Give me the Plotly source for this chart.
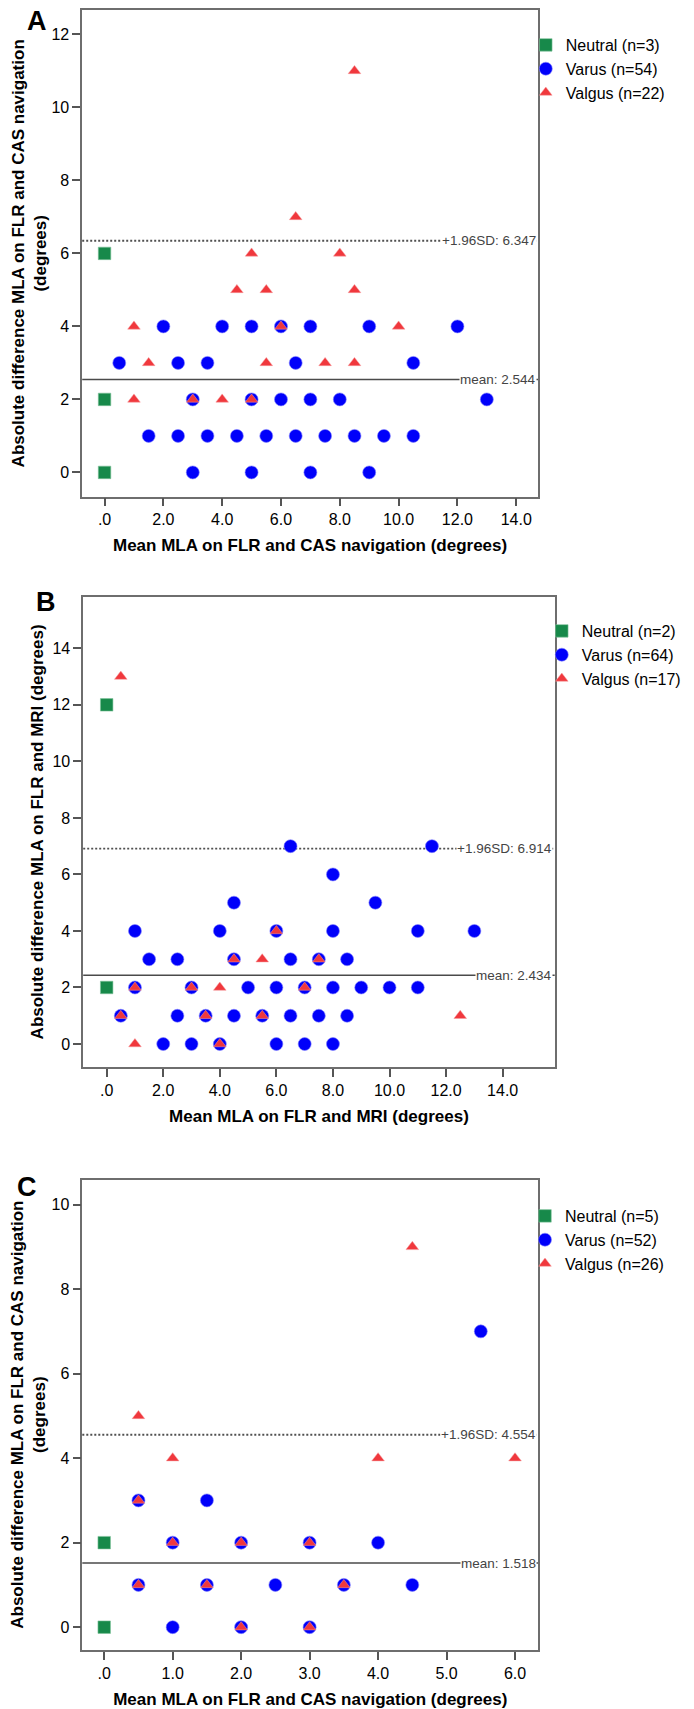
import plotly.graph_objects as go

W, H = 694, 1709

# ---------------- DATA ----------------
# Panel A: FLR vs CAS navigation
a_neutral_x = [0, 0, 0]
a_neutral_y = [6, 2, 0]
a_varus_x = [2.0, 4.0, 5.0, 6.0, 7.0, 9.0, 12.0,
             0.5, 2.5, 3.5, 6.5, 10.5,
             3.0, 5.0, 6.0, 7.0, 8.0, 13.0,
             1.5, 2.5, 3.5, 4.5, 5.5, 6.5, 7.5, 8.5, 9.5, 10.5,
             3.0, 5.0, 7.0, 9.0]
a_varus_y = [4, 4, 4, 4, 4, 4, 4,
             3, 3, 3, 3, 3,
             2, 2, 2, 2, 2, 2,
             1, 1, 1, 1, 1, 1, 1, 1, 1, 1,
             0, 0, 0, 0]
a_valgus_x = [8.5, 6.5, 5.0, 8.0, 4.5, 5.5, 8.5, 1.0, 6.0, 10.0,
              1.5, 5.5, 7.5, 8.5, 1.0, 3.0, 4.0, 5.0]
a_valgus_y = [11, 7, 6, 6, 5, 5, 5, 4, 4, 4,
              3, 3, 3, 3, 2, 2, 2, 2]
a_mean = 2.544
a_sd = 6.347
a_names = ["Neutral (n=3)", "Varus (n=54)", "Valgus (n=22)"]
a_xticks = [0, 2, 4, 6, 8, 10, 12, 14]
a_xticklabels = [".0", "2.0", "4.0", "6.0", "8.0", "10.0", "12.0", "14.0"]
a_yticks = [0, 2, 4, 6, 8, 10, 12]

# Panel B: FLR vs MRI
b_neutral_x = [0, 0]
b_neutral_y = [12, 2]
b_varus_x = [6.5, 11.5,
             8.0,
             4.5, 9.5,
             1.0, 4.0, 6.0, 8.0, 11.0, 13.0,
             1.5, 2.5, 4.5, 6.5, 7.5, 8.5,
             1.0, 3.0, 5.0, 6.0, 7.0, 8.0, 9.0, 10.0, 11.0,
             0.5, 2.5, 3.5, 4.5, 5.5, 6.5, 7.5, 8.5,
             2.0, 3.0, 4.0, 6.0, 7.0, 8.0]
b_varus_y = [7, 7,
             6,
             5, 5,
             4, 4, 4, 4, 4, 4,
             3, 3, 3, 3, 3, 3,
             2, 2, 2, 2, 2, 2, 2, 2, 2,
             1, 1, 1, 1, 1, 1, 1, 1,
             0, 0, 0, 0, 0, 0]
b_valgus_x = [0.5, 6.0, 4.5, 5.5, 7.5, 1.0, 3.0, 4.0, 7.0,
              0.5, 3.5, 5.5, 12.5, 1.0, 4.0]
b_valgus_y = [13, 4, 3, 3, 3, 2, 2, 2, 2,
              1, 1, 1, 1, 0, 0]
b_mean = 2.434
b_sd = 6.914
b_names = ["Neutral (n=2)", "Varus (n=64)", "Valgus (n=17)"]
b_xticks = [0, 2, 4, 6, 8, 10, 12, 14]
b_xticklabels = [".0", "2.0", "4.0", "6.0", "8.0", "10.0", "12.0", "14.0"]
b_yticks = [0, 2, 4, 6, 8, 10, 12, 14]

# Panel C: FLR vs CAS navigation
c_neutral_x = [0, 0]
c_neutral_y = [2, 0]
c_varus_x = [5.5, 0.5, 1.5, 1.0, 2.0, 3.0, 4.0,
             0.5, 1.5, 2.5, 3.5, 4.5, 1.0, 2.0, 3.0]
c_varus_y = [7, 3, 3, 2, 2, 2, 2,
             1, 1, 1, 1, 1, 0, 0, 0]
c_valgus_x = [4.5, 0.5, 1.0, 4.0, 6.0, 0.5, 1.0, 2.0, 3.0,
              0.5, 1.5, 3.5, 2.0, 3.0]
c_valgus_y = [9, 5, 4, 4, 4, 3, 2, 2, 2,
              1, 1, 1, 0, 0]
c_mean = 1.518
c_sd = 4.554
c_names = ["Neutral (n=5)", "Varus (n=52)", "Valgus (n=26)"]
c_xticks = [0, 1, 2, 3, 4, 5, 6]
c_xticklabels = [".0", "1.0", "2.0", "3.0", "4.0", "5.0", "6.0"]
c_yticks = [0, 2, 4, 6, 8, 10]

# ---------------- STYLE ----------------
GREEN = "#17894a"
BLUE = "#0000fa"
RED = "#f0383d"
FONT = "Liberation Sans, Arial, sans-serif"

panels = [
    dict(label="A", frame=(82.2, 538.0, 10.3, 496.5), xr=[-0.76, 14.74], yr=[-0.66, 12.66],
         nx=a_neutral_x, ny=a_neutral_y, vx=a_varus_x, vy=a_varus_y, gx=a_valgus_x, gy=a_valgus_y,
         mean=a_mean, sd=a_sd, names=a_names, xt=a_xticks, xtl=a_xticklabels, yt=a_yticks,
         xtitle="Mean MLA on FLR and CAS navigation (degrees)",
         ytitle="Absolute difference MLA on FLR and CAS navigation<br>(degrees)",
         ytx=29.0, lab_xy=(37, 21.5), leg=(525.8, 28)),
    dict(label="B", frame=(83.2, 554.7, 596.6, 1067.2), xr=[-0.83, 15.84], yr=[-0.82, 15.83],
         nx=b_neutral_x, ny=b_neutral_y, vx=b_varus_x, vy=b_varus_y, gx=b_valgus_x, gy=b_valgus_y,
         mean=b_mean, sd=b_sd, names=b_names, xt=b_xticks, xtl=b_xticklabels, yt=b_yticks,
         xtitle="Mean MLA on FLR and MRI (degrees)",
         ytitle="Absolute difference MLA on FLR and MRI (degrees)",
         ytx=37.5, lab_xy=(46, 602.5), leg=(541.8, 614)),
    dict(label="C", frame=(82.3, 538.3, 1180.1, 1650.4), xr=[-0.32, 6.34], yr=[-0.55, 10.58],
         nx=c_neutral_x, ny=c_neutral_y, vx=c_varus_x, vy=c_varus_y, gx=c_valgus_x, gy=c_valgus_y,
         mean=c_mean, sd=c_sd, names=c_names, xt=c_xticks, xtl=c_xticklabels, yt=c_yticks,
         xtitle="Mean MLA on FLR and CAS navigation (degrees)",
         ytitle="Absolute difference MLA on FLR and CAS navigation<br>(degrees)",
         ytx=28.5, lab_xy=(27, 1186.7), leg=(525, 1199)),
]

fig = go.Figure()
layout = dict(width=W, height=H, margin=dict(l=0, r=0, t=0, b=0),
              paper_bgcolor="white", plot_bgcolor="white",
              font=dict(family=FONT, size=16, color="black"),
              annotations=[], shapes=[])

for i, p in enumerate(panels):
    n = "" if i == 0 else str(i + 1)
    xa, ya = "x" + n, "y" + n
    leg = "legend" + n
    x0, x1, y0, y1 = p["frame"]
    common = dict(xaxis=xa, yaxis=ya, legend=leg, mode="markers", hoverinfo="skip")
    fig.add_trace(go.Scatter(x=p["nx"], y=p["ny"], name=p["names"][0],
                             marker=dict(symbol="square", size=12.5, color=GREEN,
                                         line=dict(width=0.6, color="#7fc39a")), **common))
    fig.add_trace(go.Scatter(x=p["vx"], y=p["vy"], name=p["names"][1],
                             marker=dict(symbol="circle", size=13, color=BLUE,
                                         line=dict(width=0.6, color="#8080ff")), **common))
    fig.add_trace(go.Scatter(x=p["gx"], y=p["gy"], name=p["names"][2],
                             marker=dict(symbol="triangle-up", size=11, color=RED,
                                         line=dict(width=0.5, color="#f79a9c")), **common))

    axis_common = dict(showgrid=False, zeroline=False, showline=True, mirror=True,
                       linecolor="#6e6e6e", linewidth=1.5, ticks="outside", ticklen=8,
                       tickwidth=1.5, tickcolor="#555555",
                       tickfont=dict(family=FONT, size=16, color="black"), fixedrange=True)
    layout["xaxis" + n] = dict(domain=[x0 / W, x1 / W], range=p["xr"], anchor=ya,
                               tickmode="array", tickvals=p["xt"], ticktext=p["xtl"],
                               title=dict(text=p["xtitle"], standoff=12,
                                          font=dict(family=FONT, size=17, color="black", weight="bold")),
                               **axis_common)
    layout["yaxis" + n] = dict(domain=[1 - y1 / H, 1 - y0 / H], range=p["yr"], anchor=xa,
                               tickmode="array", tickvals=p["yt"], ticktext=[str(v) for v in p["yt"]],
                               **axis_common)
    # y-axis title
    layout["annotations"].append(dict(xref="paper", yref="paper", x=p["ytx"] / W,
                                      y=1 - (y0 + y1) / 2 / H, xanchor="center", yanchor="middle",
                                      textangle=-90, showarrow=False, text="<b>%s</b>" % p["ytitle"],
                                      font=dict(family=FONT, size=17, color="black")))
    lx, ly = p["leg"]
    layout[leg] = dict(x=lx / W, y=1 - ly / H, xanchor="left", yanchor="top",
                       bgcolor="rgba(0,0,0,0)", borderwidth=0,
                       font=dict(family=FONT, size=16, color="black"))
    # mean and +1.96SD reference lines
    layout["shapes"].append(dict(type="line", xref=xa + " domain", yref=ya, x0=0, x1=1,
                                 y0=p["mean"], y1=p["mean"], layer="below",
                                 line=dict(color="#4a4a4a", width=1.5)))
    layout["shapes"].append(dict(type="line", xref=xa + " domain", yref=ya, x0=0, x1=1,
                                 y0=p["sd"], y1=p["sd"], layer="below",
                                 line=dict(color="#505050", width=1.8, dash="2px,2px")))
    layout["annotations"].append(dict(xref=xa + " domain", yref=ya, x=0.997, y=p["mean"],
                                      xanchor="right", yanchor="middle", showarrow=False,
                                      text="mean: %.3f" % p["mean"], bgcolor="white", borderpad=0,
                                      font=dict(family=FONT, size=13.5, color="#444444")))
    layout["annotations"].append(dict(xref=xa + " domain", yref=ya, x=0.997, y=p["sd"],
                                      xanchor="right", yanchor="middle", showarrow=False,
                                      text="+1.96SD: %.3f" % p["sd"], bgcolor="white", borderpad=0,
                                      font=dict(family=FONT, size=13.5, color="#444444")))
    lx0, ly0 = p["lab_xy"]
    layout["annotations"].append(dict(xref="paper", yref="paper", x=lx0 / W, y=1 - ly0 / H,
                                      xanchor="center", yanchor="middle", showarrow=False,
                                      text="<b>%s</b>" % p["label"],
                                      font=dict(family=FONT, size=27, color="black")))

fig.update_layout(**layout)
fig.write_html("out.html", config={"displayModeBar": False},
               post_script="document.body.style.margin='0';")
